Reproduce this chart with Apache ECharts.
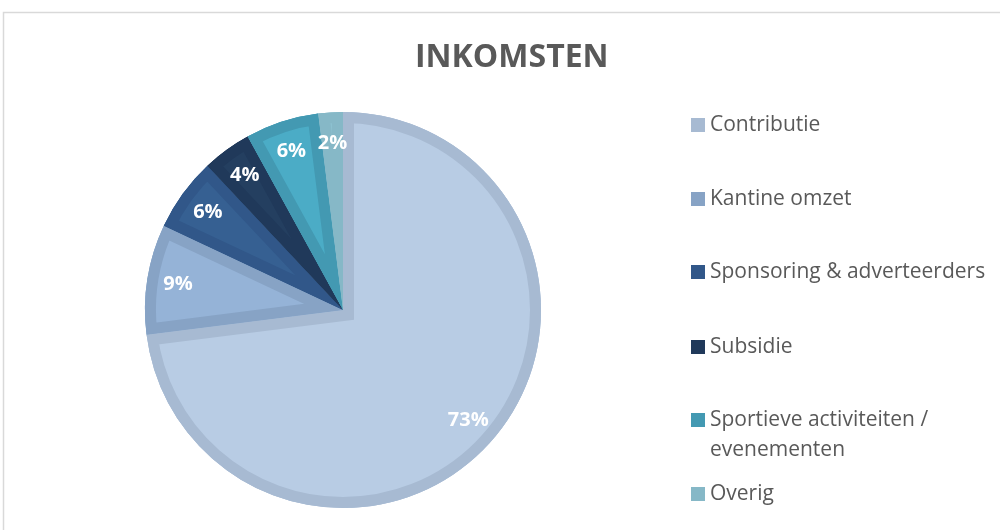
<!DOCTYPE html>
<html lang="nl">
<head>
    <meta charset="UTF-8">
    <title>Inkomsten</title>
    <script type="text/javascript" src="https://cdn.jsdelivr.net/npm/echarts@6/dist/echarts.min.js"></script>
    <style type="text/css">
        html, body { margin: 0; padding: 0; background: #fff; }
        #main { width: 1000px; height: 530px; }
    </style>
</head>
<body>
    <div id="main"></div>
    <script type="text/javascript">
        var categories = ['Contributie', 'Kantine omzet', 'Sponsoring & adverteerders', 'Subsidie', 'Sportieve activiteiten / evenementen', 'Overig'];
        var values = [73, 9, 6, 4, 6, 2];
        var fillColors = ['#b8cce4', '#95b3d7', '#366092', '#243f60', '#4bacc6', '#8cc1d0'];
        var edgeColors = ['#a7bad2', '#87a3c5', '#315789', '#20395a', '#4399b2', '#86b8c7'];
        var legendLabels = ['Contributie', 'Kantine omzet', 'Sponsoring & adverteerders', 'Subsidie', 'Sportieve activiteiten /\nevenementen', 'Overig'];
        var legendTops = [105, 179, 252, 327, 400, 474];

        (function () {
            var font = '"Open Sans", Lato, sans-serif';
            var total = 0;
            for (var k = 0; k < values.length; k++) total += values[k];

            // pie = base slices in edge colour (gives legend + geometry)
            var pieData = [];
            var labelData = [];
            // custom = inner fill of each slice, drawn on the polar scale
            var insetData = [];
            var acc = 0;
            for (var i = 0; i < categories.length; i++) {
                pieData.push({ name: categories[i], value: values[i], itemStyle: { color: edgeColors[i] } });
                labelData.push({ name: categories[i], value: values[i] });
                insetData.push([acc, acc + values[i], i]);
                acc += values[i];
            }

            var legends = [];
            for (var j = 0; j < categories.length; j++) {
                var twoLines = legendLabels[j].indexOf('\n') >= 0;
                legends.push({
                    orient: 'vertical',
                    left: 686,
                    top: legendTops[j],
                    itemWidth: 14,
                    itemHeight: twoLines ? 44 : 14,
                    icon: twoLines ? 'path://M0,0L14,0L14,14L0,14Z M0,44L14,44' : 'rect',
                    selectedMode: false,
                    data: [categories[j]],
                    formatter: function (name) {
                        return legendLabels[categories.indexOf(name)];
                    },
                    textStyle: {
                        color: '#595959',
                        fontSize: 21,
                        fontFamily: font,
                        lineHeight: 30
                    }
                });
            }

            function renderInset(params, api) {
                var cs = params.coordSys;
                var p0 = api.coord([1, api.value(0)]);
                var p1 = api.coord([1, api.value(1)]);
                var idx = api.value(2);
                var a0 = Math.atan2(p0[1] - cs.cy, p0[0] - cs.cx);
                var a1 = Math.atan2(p1[1] - cs.cy, p1[0] - cs.cx);
                if (a1 <= a0) a1 += Math.PI * 2;
                var shape = { cx: cs.cx, cy: cs.cy, r0: 0, r: cs.r, startAngle: a0, endAngle: a1, clockwise: true };
                return {
                    type: 'group',
                    clipPath: { type: 'sector', shape: shape },
                    children: [{
                        type: 'sector',
                        shape: shape,
                        style: { fill: fillColors[idx], stroke: edgeColors[idx], lineWidth: 22, lineJoin: 'miter' }
                    }]
                };
            }

            var option = {
                animation: false,
                title: {
                    text: 'INKOMSTEN',
                    left: 410,
                    top: 37,
                    textStyle: {
                        color: '#595959',
                        fontSize: 32,
                        fontWeight: 'bold',
                        fontFamily: font
                    }
                },
                graphic: [{
                    type: 'rect',
                    shape: { x: 3.5, y: 12.5, width: 1200, height: 700 },
                    style: { fill: 'none', stroke: '#d9d9d9', lineWidth: 1.5 },
                    silent: true
                }],
                legend: legends,
                polar: { center: [343, 310], radius: 198 },
                angleAxis: { type: 'value', min: 0, max: total, startAngle: 90, clockwise: true, show: false },
                radiusAxis: { type: 'value', min: 0, max: 1, show: false },
                series: [
                    {
                        type: 'pie',
                        z: 2,
                        center: [343, 310],
                        radius: [0, 198],
                        startAngle: 90,
                        clockwise: true,
                        silent: true,
                        itemStyle: { borderWidth: 0 },
                        label: { show: false },
                        labelLine: { show: false },
                        data: pieData
                    },
                    {
                        type: 'custom',
                        z: 3,
                        coordinateSystem: 'polar',
                        silent: true,
                        renderItem: renderInset,
                        data: insetData
                    },
                    {
                        type: 'pie',
                        z: 4,
                        center: [343, 310],
                        radius: [130, 198],
                        startAngle: 90,
                        clockwise: true,
                        silent: true,
                        itemStyle: { color: 'rgba(0,0,0,0)', borderWidth: 0 },
                        label: {
                            show: true,
                            position: 'inside',
                            formatter: '{c}%',
                            color: '#ffffff',
                            fontSize: 20,
                            fontWeight: 'bold',
                            fontFamily: font
                        },
                        labelLine: { show: false },
                        data: labelData
                    }
                ]
            };

            var myChart = echarts.init(document.getElementById('main'));
            myChart.setOption(option);
        })();
    </script>
</body>
</html>
